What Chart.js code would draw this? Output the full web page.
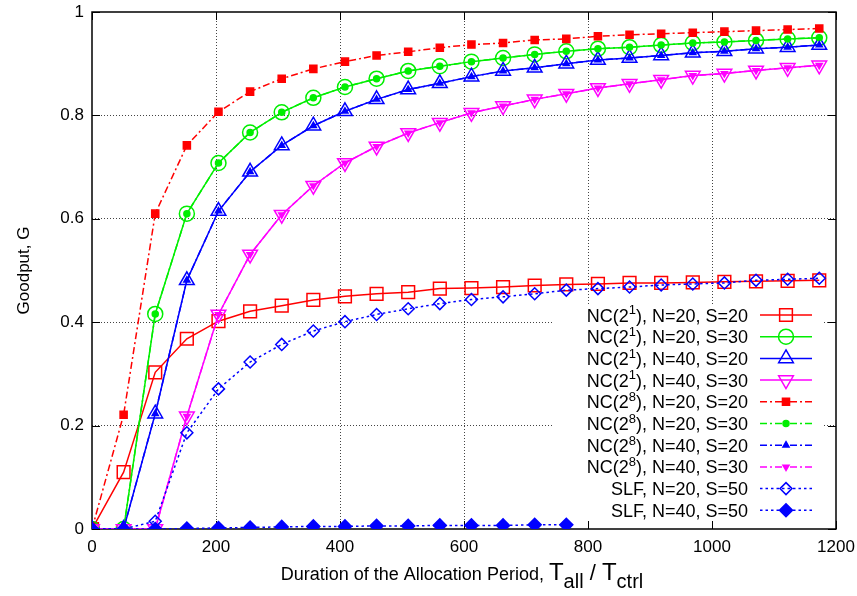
<!DOCTYPE html>
<html>
<head>
<meta charset="utf-8">
<script src="https://cdn.jsdelivr.net/npm/chart.js@4.4.0/dist/chart.umd.min.js"></script>
<style>
  html, body { margin: 0; padding: 0; background: #fff; }
  #wrap { width: 857px; height: 596px; position: relative; }
</style>
</head>
<body>
<div id="wrap"><canvas id="goodputChart"></canvas></div>
<script>
// Duration of the allocation period (T_all / T_ctrl)
const periods = [0, 51, 102, 153, 204, 255, 306, 357, 408, 459, 510, 561, 612, 663, 714, 765, 816, 867, 918, 969, 1020, 1071, 1122, 1173];
const slfPeriods = [0, 51, 102, 153, 204, 255, 306, 357, 408, 459, 510, 561, 612, 663, 714, 765];

const nc1N20S20 = [0, 0.110, 0.303, 0.368, 0.402, 0.421, 0.432, 0.443, 0.450, 0.455, 0.458, 0.465, 0.466, 0.468, 0.471, 0.473, 0.474, 0.476, 0.476, 0.477, 0.478, 0.479, 0.480, 0.481];
const nc1N20S30 = [0, 0, 0.416, 0.610, 0.708, 0.767, 0.806, 0.834, 0.855, 0.871, 0.886, 0.895, 0.904, 0.911, 0.918, 0.924, 0.929, 0.932, 0.936, 0.940, 0.942, 0.945, 0.948, 0.950];
const nc1N40S20 = [0, 0, 0.223, 0.481, 0.615, 0.691, 0.742, 0.780, 0.808, 0.831, 0.850, 0.862, 0.875, 0.886, 0.892, 0.900, 0.907, 0.911, 0.916, 0.921, 0.924, 0.929, 0.932, 0.936];
const nc1N40S30 = [0, 0, 0, 0.218, 0.415, 0.531, 0.608, 0.664, 0.708, 0.740, 0.766, 0.786, 0.805, 0.818, 0.831, 0.842, 0.853, 0.861, 0.869, 0.877, 0.881, 0.887, 0.892, 0.897];
const nc8N20S20 = [0, 0.221, 0.610, 0.742, 0.807, 0.846, 0.871, 0.890, 0.904, 0.916, 0.923, 0.931, 0.937, 0.940, 0.946, 0.948, 0.953, 0.956, 0.958, 0.960, 0.962, 0.964, 0.966, 0.968];
const nc8N20S30 = [0, 0, 0.416, 0.610, 0.708, 0.767, 0.806, 0.834, 0.855, 0.871, 0.886, 0.895, 0.904, 0.911, 0.918, 0.924, 0.929, 0.932, 0.936, 0.940, 0.942, 0.945, 0.948, 0.950];
const nc8N40S20 = [0, 0, 0.223, 0.481, 0.615, 0.691, 0.742, 0.780, 0.808, 0.831, 0.850, 0.862, 0.875, 0.886, 0.892, 0.900, 0.907, 0.911, 0.916, 0.921, 0.924, 0.929, 0.932, 0.936];
const nc8N40S30 = [0, 0, 0, 0.218, 0.415, 0.531, 0.608, 0.664, 0.708, 0.740, 0.766, 0.786, 0.805, 0.818, 0.831, 0.842, 0.853, 0.861, 0.869, 0.877, 0.881, 0.887, 0.892, 0.897];
const slfN20S50 = [0, 0, 0.015, 0.186, 0.271, 0.323, 0.357, 0.383, 0.401, 0.415, 0.426, 0.436, 0.444, 0.449, 0.455, 0.462, 0.465, 0.468, 0.472, 0.474, 0.476, 0.481, 0.483, 0.485];
const slfN40S50 = [0, 0, 0, 0.001, 0.002, 0.003, 0.004, 0.005, 0.005, 0.006, 0.006, 0.007, 0.007, 0.007, 0.008, 0.008];

const xTicks = [0, 200, 400, 600, 800, 1000, 1200];
const yTicks = [0, 0.2, 0.4, 0.6, 0.8, 1];

const FAMILY = '"Liberation Sans", Arial, Helvetica, sans-serif';
const DASH_DOT = [7, 3, 2, 3];
const DOTTED = [2.5, 3];

// label, x, y, color, dash, marker, radius, rotation, filled
const series = [
    ['NC(2^{1}), N=20, S=20', periods, nc1N20S20, '#ff0000', [], 'rect', 9, 0, false],
    ['NC(2^{1}), N=20, S=30', periods, nc1N20S30, '#00ee00', [], 'circle', 7.5, 0, false],
    ['NC(2^{1}), N=40, S=20', periods, nc1N40S20, '#0000ff', [], 'triangle', 8.5, 0, false],
    ['NC(2^{1}), N=40, S=30', periods, nc1N40S30, '#ff00ff', [], 'triangle', 8.5, 180, false],
    ['NC(2^{8}), N=20, S=20', periods, nc8N20S20, '#ff0000', DASH_DOT, 'rect', 5, 0, true],
    ['NC(2^{8}), N=20, S=30', periods, nc8N20S30, '#00ee00', DASH_DOT, 'circle', 3, 0, true],
    ['NC(2^{8}), N=40, S=20', periods, nc8N40S20, '#0000ff', DASH_DOT, 'triangle', 3.5, 0, true],
    ['NC(2^{8}), N=40, S=30', periods, nc8N40S30, '#ff00ff', DASH_DOT, 'triangle', 3.5, 180, true],
    ['SLF, N=20, S=50', periods, slfN20S50, '#0000ff', DOTTED, 'rectRot', 6, 0, false],
    ['SLF, N=40, S=50', slfPeriods, slfN40S50, '#0000ff', DOTTED, 'rectRot', 6.5, 0, true]
];

const datasets = series.map((s, i) => ({
    label: s[0],
    data: s[1].map((x, k) => ({ x: x, y: s[2][k] })),
    borderColor: s[3],
    borderWidth: 1.5,
    borderDash: s[4],
    pointStyle: s[5],
    pointRadius: s[6],
    pointRotation: s[7],
    pointBorderColor: s[3],
    pointBorderWidth: 1.5,
    pointBackgroundColor: s[8] ? s[3] : 'rgba(0,0,0,0)',
    tension: 0,
    fill: false,
    order: series.length - i
}));

// texto com ^{sup}: vira lista de pedaços {t, size, dy}
function parseRuns(str, size) {
    return str.split(/(\^\{[^}]*\})/).filter(s => s).map(s => {
        if (s[0] === '^') return { t: s.slice(2, -1), size: Math.round(size * 0.72), dy: -size * 0.4 };
        return { t: s, size: size, dy: 0 };
    });
}

function drawRuns(c, runs, x, y, align) {
    let w = 0;
    runs.forEach(r => { c.font = r.size + 'px ' + FAMILY; r.w = c.measureText(r.t).width; w += r.w; });
    let cx = align === 'right' ? x - w : align === 'center' ? x - w / 2 : x;
    c.textAlign = 'left';
    runs.forEach(r => {
        c.font = r.size + 'px ' + FAMILY;
        c.fillText(r.t, cx, y + r.dy);
        cx += r.w;
    });
}

function drawMarker(c, style, x, y, r, rot) {
    c.beginPath();
    if (style === 'circle') {
        c.arc(x, y, r, 0, Math.PI * 2);
    } else if (style === 'rect') {
        const h = r * Math.SQRT1_2;
        c.rect(x - h, y - h, 2 * h, 2 * h);
    } else if (style === 'rectRot') {
        c.moveTo(x, y - r); c.lineTo(x + r, y); c.lineTo(x, y + r); c.lineTo(x - r, y);
    } else if (style === 'triangle') {
        let a = rot * Math.PI / 180;
        c.moveTo(x + Math.sin(a) * r, y - Math.cos(a) * r);
        a += 2 * Math.PI / 3;
        c.lineTo(x + Math.sin(a) * r, y - Math.cos(a) * r);
        a += 2 * Math.PI / 3;
        c.lineTo(x + Math.sin(a) * r, y - Math.cos(a) * r);
    }
    c.closePath();
    c.fill();
    c.stroke();
}

const framePlugin = {
    id: 'frame',
    beforeDatasetsDraw(chart) {
        const c = chart.ctx;
        const a = chart.chartArea;
        const sx = chart.scales.x, sy = chart.scales.y;
        c.save();
        // fundo da legenda
        c.fillStyle = '#fff';
        c.fillRect(552, 304, 270, 218);
        // borda e ticks para dentro
        c.strokeStyle = '#000';
        c.lineWidth = 1.5;
        c.strokeRect(a.left, a.top, a.right - a.left, a.bottom - a.top);
        c.lineWidth = 1;
        c.beginPath();
        xTicks.forEach(v => {
            const px = Math.round(sx.getPixelForValue(v)) + 0.5;
            c.moveTo(px, a.bottom); c.lineTo(px, a.bottom - 8);
            c.moveTo(px, a.top); c.lineTo(px, a.top + 8);
        });
        yTicks.forEach(v => {
            const py = Math.round(sy.getPixelForValue(v)) + 0.5;
            c.moveTo(a.left, py); c.lineTo(a.left + 8, py);
            c.moveTo(a.right, py); c.lineTo(a.right - 8, py);
        });
        c.stroke();
        c.restore();
    },
    afterDraw(chart) {
        const c = chart.ctx;
        const a = chart.chartArea;
        c.save();
        c.textBaseline = 'alphabetic';
        // legenda
        chart.data.datasets.forEach((ds, i) => {
            const y = 315 + i * 21.7;
            c.fillStyle = '#000';
            drawRuns(c, parseRuns(ds.label, 18), 748, y + 6.5, 'right');
            c.strokeStyle = ds.borderColor;
            c.lineWidth = 1.5;
            c.setLineDash(ds.borderDash);
            c.beginPath();
            c.moveTo(760, y); c.lineTo(812, y);
            c.stroke();
            c.setLineDash([]);
            c.fillStyle = ds.pointBackgroundColor;
            drawMarker(c, ds.pointStyle, 786, y, ds.pointRadius, ds.pointRotation);
        });
        // titulos dos eixos
        c.fillStyle = '#000';
        const xTitle = [
            { t: 'Duration of the Allocation Period, ', size: 18, dy: 0 },
            { t: 'T', size: 24, dy: 0 },
            { t: 'all', size: 20, dy: 8 },
            { t: ' / ', size: 22, dy: 0 },
            { t: 'T', size: 24, dy: 0 },
            { t: 'ctrl', size: 20, dy: 8 }
        ];
        drawRuns(c, xTitle, 462, 580, 'center');
        c.translate(23, (a.top + a.bottom) / 2);
        c.rotate(-Math.PI / 2);
        drawRuns(c, parseRuns('Goodput, G', 17), 0, 6, 'center');
        c.restore();
    }
};

Chart.defaults.font.family = FAMILY;
Chart.defaults.color = '#000';

new Chart(document.getElementById('goodputChart'), {
    type: 'line',
    data: { datasets },
    options: {
        responsive: true,
        maintainAspectRatio: false,
        animation: false,
        events: [],
        layout: { padding: { top: 12, right: 21, left: 0, bottom: 0 } },
        plugins: { legend: { display: false }, tooltip: { enabled: false } },
        scales: {
            x: {
                type: 'linear',
                min: 0,
                max: 1200,
                ticks: { stepSize: 200, font: { size: 17 }, padding: 8, maxRotation: 0, callback: v => String(v) },
                grid: {
                    drawTicks: false,
                    lineWidth: 1,
                    color: ctx => (ctx.tick && (ctx.tick.value === 0 || ctx.tick.value === 1200)) ? 'rgba(0,0,0,0)' : '#444'
                },
                border: { display: false, dash: [1, 2] },
                afterFit: s => { s.height = 596 - 529; s.paddingLeft = 0; s.paddingRight = 0; }
            },
            y: {
                min: 0,
                max: 1,
                ticks: { stepSize: 0.2, font: { size: 17 }, padding: 8, callback: v => String(Math.round(v * 10) / 10) },
                grid: {
                    drawTicks: false,
                    lineWidth: 1,
                    color: ctx => (ctx.tick && (ctx.tick.value === 0 || ctx.tick.value === 1)) ? 'rgba(0,0,0,0)' : '#444'
                },
                border: { display: false, dash: [1, 2] },
                afterFit: s => { s.width = 92; s.paddingTop = 0; s.paddingBottom = 0; }
            }
        }
    },
    plugins: [framePlugin]
});
</script>
</body>
</html>
